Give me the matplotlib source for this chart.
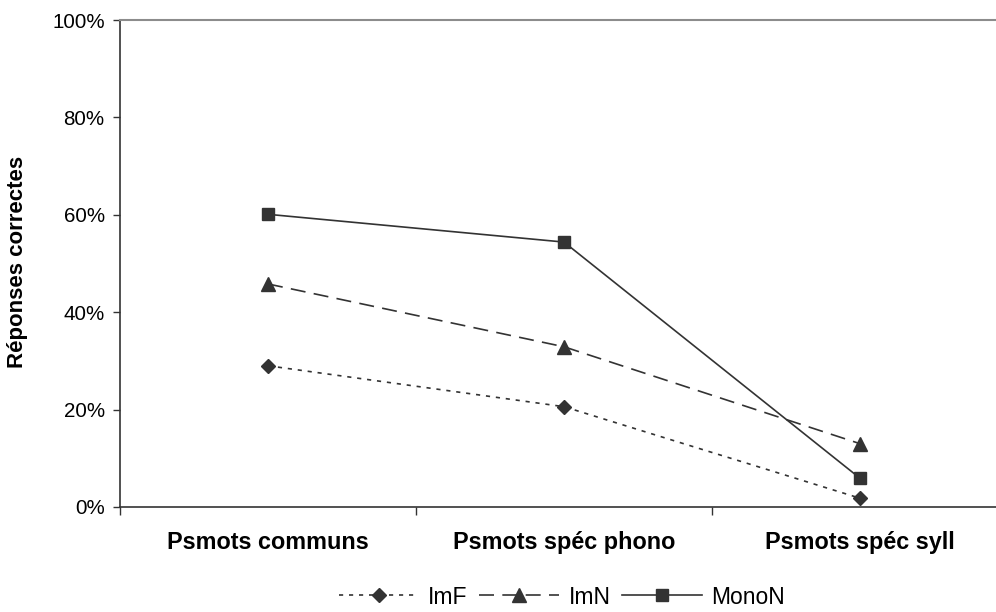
import matplotlib
matplotlib.use("Agg")
import matplotlib.pyplot as plt
from matplotlib.ticker import FixedLocator, PercentFormatter

plt.rcParams["font.family"] = ["Liberation Sans", "DejaVu Sans"]

# ------------------------------------------------------------
# data
# ------------------------------------------------------------
categories = ["Psmots communs", "Psmots spéc phono", "Psmots spéc syll"]
imf = [29.0, 20.6, 1.8]
imn = [45.8, 32.9, 13.0]
monon = [60.1, 54.4, 5.9]
y_ticks = [0, 20, 40, 60, 80, 100]

ink = "#333333"

fig = plt.figure(figsize=(9.96, 6.12), dpi=100)
# the plot area runs past the right edge of the figure
ax = fig.add_axes([120 / 996, 1 - 507 / 612, 888 / 996, 487 / 612])

x = list(range(len(categories)))
ax.plot(x, imf, color=ink, lw=1.2, ls=(0, (2.5, 3.5)), marker="D", ms=7.5,
        label="ImF", clip_on=False, zorder=3)
ax.plot(x, imn, color=ink, lw=1.2, ls=(0, (9, 5)), marker="^", ms=10,
        label="ImN", clip_on=False, zorder=3)
ax.plot(x, monon, color=ink, lw=1.2, ls="-", marker="s", ms=8.5,
        label="MonoN", clip_on=False, zorder=3)

ax.set_xlim(-0.5, len(categories) - 0.5)
ax.set_ylim(0, 100)

# category labels centred, tick marks on the boundaries
ax.xaxis.set_major_locator(FixedLocator(x))
ax.set_xticklabels(categories, fontsize=16.8, fontweight="bold")
ax.xaxis.set_minor_locator(FixedLocator([-0.5, 0.5, 1.5, 2.5]))
ax.tick_params(axis="x", which="major", length=0, pad=17)
ax.tick_params(axis="x", which="minor", length=6, width=1, color=ink,
               direction="out")

ax.yaxis.set_major_locator(FixedLocator(y_ticks))
ax.yaxis.set_major_formatter(PercentFormatter(decimals=0))
ax.tick_params(axis="y", length=5, width=1, color=ink, labelsize=14.8,
               pad=6, direction="out")

ax.spines["right"].set_visible(False)
ax.spines["top"].set_color("#8c8c8c")
ax.spines["top"].set_linewidth(1.5)
for side in ("left", "bottom"):
    ax.spines[side].set_color(ink)
    ax.spines[side].set_linewidth(1.2)

fig.text(18 / 996, 1 - 262 / 612, "Réponses correctes", rotation=90,
         ha="center", va="center", fontsize=16, fontweight="bold")

fig.legend(loc="center", bbox_to_anchor=(562 / 996, 1 - 597 / 612), ncol=3,
           frameon=False, fontsize=16.5, handlelength=3.5, handletextpad=0.4,
           columnspacing=0.5, borderpad=0)

fig.savefig("out.png", dpi=100)
